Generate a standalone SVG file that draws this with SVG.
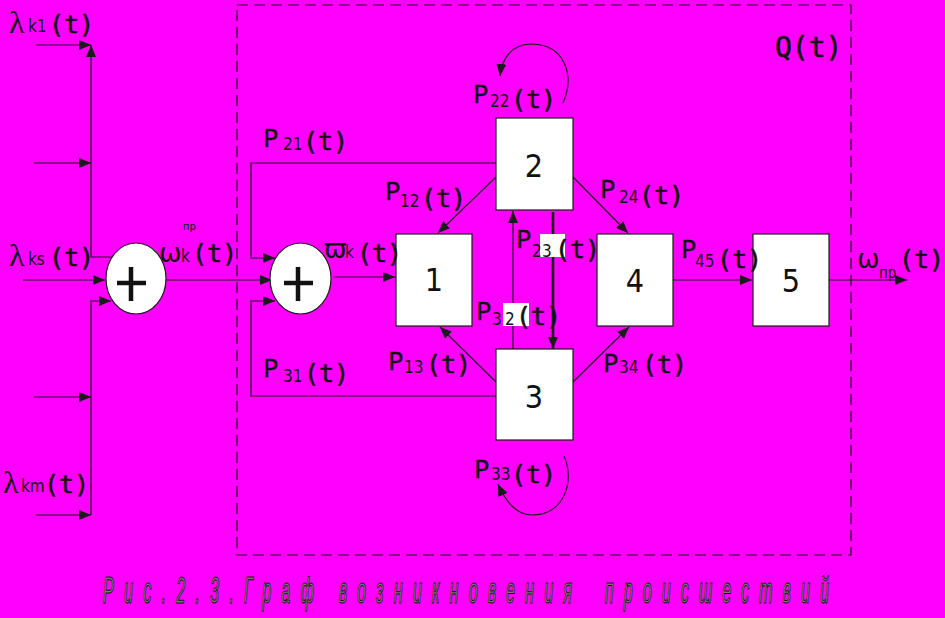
<svg xmlns="http://www.w3.org/2000/svg" width="945" height="618" viewBox="0 0 945 618">
<style>
.ln{fill:none;stroke:#1a1a1a;stroke-width:1.2}
.arr{marker-end:url(#ah)}
.box{fill:#fff;stroke:#1a1a1a;stroke-width:1.2}
.sum{fill:#fff;stroke:#1a1a1a;stroke-width:1.2}
.plus{stroke:#111;stroke-width:4.5;fill:none}
.num{font-family:"DejaVu Sans Condensed","DejaVu Sans",sans-serif;font-size:32px;fill:#111;text-anchor:middle}
.P{font-family:"DejaVu Sans",sans-serif;font-size:25px;fill:#111;stroke:#111;stroke-width:0.3}
.sub{font-family:"DejaVu Sans Condensed","DejaVu Sans",sans-serif;font-size:17px;fill:#111}
.t{font-family:"DejaVu Sans Mono",monospace;font-size:25px;fill:#111;stroke:#111;stroke-width:0.6}
.lam{font-family:"Liberation Serif",serif;font-size:32px;fill:#111}
.om{font-family:"DejaVu Sans",sans-serif;font-size:27px;fill:#111}
.tiny{font-family:"DejaVu Sans Condensed","DejaVu Sans",sans-serif;font-size:11px;fill:#111}
.cap{font-family:"Liberation Sans",sans-serif;font-style:italic;font-size:36px;fill:#7a7a7a;stroke:#111;stroke-width:1}
.wb{fill:#fff}
</style>
<defs>
<marker id="ah" viewBox="0 0 12 10" refX="12" refY="5" markerWidth="12" markerHeight="10" markerUnits="userSpaceOnUse" orient="auto">
<path d="M0,0 L12,5 L0,10 z" fill="#1a1a1a"/>
</marker>
</defs>
<rect x="0" y="0" width="945" height="618" fill="#ff00ff"/>
<rect id="boundary" x="237" y="5" width="614" height="550" fill="none" stroke="#1a1a1a" stroke-width="1.2" stroke-dasharray="11,6"/>

<g id="connectors">
<path class="ln arr" d="M36,45 H91"/>
<path class="ln arr" d="M112,257 H91 V45"/>
<path class="ln arr" d="M34,163 H91"/>
<path class="ln arr" d="M23,280 H105"/>
<path class="ln arr" d="M91,515 V301 H111"/>
<path class="ln arr" d="M34,397 H91"/>
<path class="ln arr" d="M36,515 H91"/>
<path class="ln arr" d="M166,280 H272"/>
<path class="ln arr" d="M496,163 H251 V258 H275"/>
<path class="ln arr" d="M496,396 H251 V301 H275"/>
<path class="ln arr" d="M334,277 H395"/>
<path class="ln arr" d="M496,177 L438,233"/>
<path class="ln arr" d="M573,177 L628,233"/>
<path class="ln arr" d="M496,382 L440,327"/>
<path class="ln arr" d="M573,382 L629,327"/>
<path class="ln arr" d="M553,212 V349" style="stroke-width:2.6"/>
<path class="ln arr" d="M513,349 V211"/>
<path class="ln arr" d="M673,280 H752"/>
<path class="ln arr" d="M829,280 H907"/>
<path class="ln arr" d="M563,103 C575,75 565,45 532,44 C512,44 502,58 500,76"/>
<path class="ln arr" d="M564,456 C575,480 565,515 532,515 C515,515 505,500 498,484"/>
</g>

<g id="sum1">
<ellipse class="sum" cx="136" cy="278.5" rx="30" ry="35.5"/>
<path class="plus" d="M117,283 H146 M131,267 V301"/>
</g>
<g id="sum2">
<ellipse class="sum" cx="300.5" cy="278.5" rx="30.5" ry="35.5"/>
<path class="plus" d="M284,283 H313 M298,267 V301"/>
</g>

<g id="node1"><rect class="box" x="396" y="234" width="76" height="92"/><text class="num" x="434" y="291">1</text></g>
<g id="node2"><rect class="box" x="496" y="118" width="77" height="92"/><text class="num" x="534" y="177">2</text></g>
<g id="node3"><rect class="box" x="496" y="349" width="77" height="91"/><text class="num" x="534" y="408">3</text></g>
<g id="node4"><rect class="box" x="597" y="234" width="76" height="92"/><text class="num" x="635" y="292">4</text></g>
<g id="node5"><rect class="box" x="753" y="234" width="76" height="92"/><text class="num" x="791" y="292">5</text></g>

<g id="labels">
<text class="t" x="775" y="57" style="font-size:28px">Q(t)</text>

<text class="lam" x="9" y="33">λ</text><text class="sub" x="28" y="32">k1</text><text class="t" x="49" y="33">(t)</text>
<text class="lam" x="9" y="266">λ</text><text class="sub" x="28" y="265">ks</text><text class="t" x="49" y="266">(t)</text>
<text class="lam" x="3" y="493">λ</text><text class="sub" x="21" y="492">km</text><text class="t" x="44" y="493">(t)</text>

<text class="tiny" x="183" y="230">пр</text>
<text class="om" x="159" y="262">ω</text><text class="sub" x="181" y="262">k</text><text class="t" x="192" y="262">(t)</text>

<text class="om" x="324" y="258">ϖ</text><text class="sub" x="345" y="258">k</text><text class="t" x="357" y="262">(t)</text>

<text class="om" x="857" y="268">ω</text><text class="sub" x="879" y="278" style="font-size:15px">пр</text><text class="t" x="899" y="268">(t)</text>

<text class="P" x="263" y="147">P</text><text class="sub" x="283" y="150">21</text><text class="t" x="303" y="150">(t)</text>
<text class="P" x="385" y="200">P</text><text class="sub" x="400" y="207">12</text><text class="t" x="421" y="207">(t)</text>
<text class="P" x="388" y="370">P</text><text class="sub" x="404" y="373">13</text><text class="t" x="426" y="373">(t)</text>
<text class="P" x="263" y="377">P</text><text class="sub" x="283" y="382">31</text><text class="t" x="304" y="382">(t)</text>
<text class="P" x="473" y="103">P</text><text class="sub" x="490" y="107">22</text><text class="t" x="511" y="108">(t)</text>
<text class="P" x="600" y="198">P</text><text class="sub" x="619" y="203">24</text><text class="t" x="639" y="204">(t)</text>
<text class="P" x="603" y="372">P</text><text class="sub" x="619" y="373">34</text><text class="t" x="642" y="373">(t)</text>
<text class="P" x="681" y="258">P</text><text class="sub" x="695" y="267">45</text><text class="t" x="717" y="268">(t)</text>
<text class="P" x="474" y="478">P</text><text class="sub" x="491" y="480">33</text><text class="t" x="511" y="483">(t)</text>

<rect class="wb" x="540" y="234" width="25" height="23"/>
<text class="P" x="516" y="248">P</text><text class="sub" x="532" y="257">2</text><text class="sub" x="542" y="257">3</text><text class="t" x="555" y="258">(t)</text>

<rect class="wb" x="503" y="303" width="26" height="23"/>
<text class="P" x="476" y="320">P</text><text class="sub" x="492" y="325">3</text><text class="sub" x="505" y="325">2</text><text class="t" x="516" y="325">(t)</text>
</g>

<g id="caption" transform="scale(0.45,1)">
<text class="cap" x="229" y="603" textLength="469" lengthAdjust="spacing">Рис.2.3.Граф</text>
<text class="cap" x="753" y="603" textLength="518" lengthAdjust="spacing">возникновения</text>
<text class="cap" x="1344" y="603" textLength="498" lengthAdjust="spacing">происшествий</text>
</g>
</svg>
